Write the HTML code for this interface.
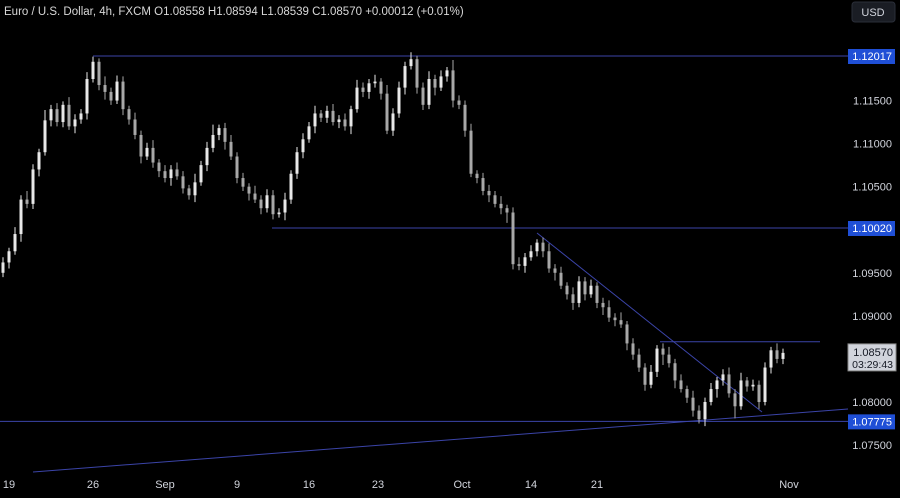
<!DOCTYPE html>
<html><head><meta charset="utf-8">
<style>
html,body{margin:0;padding:0;background:#000;}
body{width:900px;height:493px;overflow:hidden;font-family:"Liberation Sans",sans-serif;}
svg text{font-family:"Liberation Sans",sans-serif;}
</style></head>
<body>
<svg id="chart" width="900" height="493" viewBox="0 0 900 493" xmlns="http://www.w3.org/2000/svg">
<rect x="0" y="0" width="900" height="493" fill="#000"/>
<text x="4" y="15" fill="#d8d8d8" font-size="11.5">Euro / U.S. Dollar, 4h, FXCM  O1.08558  H1.08594  L1.08539  C1.08570  +0.00012 (+0.01%)</text>
<g id="lines"></g>
<g id="candles"></g>
<g id="yaxis"></g>
<g id="xaxis"></g>
<rect x="852" y="2" width="43" height="20" rx="3" fill="#1a1d24" stroke="#2a2e39"/>
<text x="873" y="16" fill="#d1d4dc" font-size="11" text-anchor="middle">USD</text>
</svg>
<script>
const closes=[1.0962,1.0975,1.0995,1.1035,1.1030,1.1070,1.1090,1.1127,1.1140,1.1125,1.1145,1.1120,1.1128,1.1135,1.1175,1.1195,1.1168,1.1160,1.1150,1.1172,1.1140,1.1128,1.1110,1.1085,1.1095,1.1078,1.1068,1.1060,1.1070,1.1062,1.1048,1.1040,1.1055,1.1075,1.1095,1.1110,1.1118,1.1102,1.1085,1.1060,1.1050,1.1042,1.1035,1.1025,1.1040,1.1018,1.1020,1.1035,1.1065,1.1090,1.1105,1.1120,1.1135,1.1130,1.1138,1.1125,1.1128,1.1120,1.1140,1.1165,1.1160,1.1170,1.1172,1.1158,1.1115,1.1135,1.1165,1.1190,1.1198,1.1165,1.1145,1.1175,1.1165,1.1178,1.1185,1.1150,1.1145,1.1115,1.1065,1.1060,1.1045,1.1040,1.1030,1.1025,1.1020,1.0960,1.0958,1.0968,1.0975,1.0985,1.0975,1.0955,1.0950,1.0935,1.0925,1.0915,1.0940,1.0925,1.0935,1.0915,1.0910,1.0898,1.0895,1.0890,1.0868,1.0855,1.0840,1.0820,1.0835,1.0862,1.0855,1.0845,1.0825,1.0815,1.0805,1.0790,1.0780,1.0800,1.0815,1.0825,1.0832,1.0810,1.0795,1.0825,1.0818,1.0820,1.0800,1.0840,1.0860,1.0850,1.0857];
const firstOpen=1.0950;
const wickUp=[6,4,8,5,10,6,4,12,5,7,4,9,6,5,8,6,4,10,5,7,6,4,8,5,6,9,4,7,5,8,6,4,10,5,7,12,4,6,8,5,6,4,9,5,7,6,5,8,4,6,7,5,9,4,6,8,5,7,4,9,6,5,8,4,10,6,7,5,8,4,6,9,5,7,4,12,6,5,8,4,6,7,5,9,4,6,8,5,7,4,6,9,5,7,4,8,6,5,7,4,6,8,5,9,4,6,7,5,8,4,6,9,5,7,4,8,6,5,7,4,6,8,5,9,4,6,5];
const wickDn=[5,7,4,9,5,6,8,4,7,5,6,4,8,5,7,4,6,9,5,4,7,6,5,8,4,6,7,5,9,4,6,5,8,4,7,5,6,9,4,6,5,8,4,7,5,6,4,9,5,6,7,4,8,5,6,4,7,5,9,4,6,8,5,7,4,6,5,8,4,7,6,5,9,4,6,8,5,7,4,6,5,8,4,7,12,6,5,8,4,6,7,5,9,4,6,8,5,7,4,6,9,5,7,4,8,6,5,7,4,6,12,5,9,4,6,7,5,8,4,10,6,5,14,4,6,5,8,4,7,5,6];
const priceTicks=[1.115,1.110,1.105,1.095,1.090,1.080,1.075];
const levelLabels=[1.12017,1.10020,1.07775];
const timeLabels=["19","26","Sep","9","16","23","Oct","14","21","Nov"];
const timeBarIdx=[1,15,27,39,51,62.5,76.5,88,99,131];

const NS="http://www.w3.org/2000/svg";
function yS(p){return 56+(1.12017-p)*8613;}
function xS(i){return 3+i*(780/(closes.length-1));}
function mk(tag,attrs,parent){const e=document.createElementNS(NS,tag);for(const k in attrs)e.setAttribute(k,attrs[k]);parent.appendChild(e);return e;}

const lines=document.getElementById('lines');
const lc="#3b44a8";
let l;
l=mk('line',{x1:93,y1:yS(1.12017),x2:848,y2:yS(1.12017),stroke:lc,'stroke-width':1},lines);


l=mk('line',{x1:272,y1:yS(1.10020),x2:848,y2:yS(1.10020),stroke:lc,'stroke-width':1},lines);


l=mk('line',{x1:0,y1:yS(1.07775),x2:848,y2:yS(1.07775),stroke:lc,'stroke-width':1},lines);


l=mk('line',{x1:660,y1:yS(1.0870),x2:820,y2:yS(1.0870),stroke:lc,'stroke-width':1},lines);


l=mk('line',{x1:537,y1:233,x2:762,y2:412,stroke:lc,'stroke-width':1},lines);


l=mk('line',{x1:33,y1:472,x2:848,y2:409,stroke:lc,'stroke-width':1},lines);



const cg=document.getElementById('candles');
for(let i=0;i<closes.length;i++){
  const o=i===0?firstOpen:closes[i-1], c=closes[i];
  const hi=Math.max(o,c)+wickUp[i%wickUp.length]*0.0001, lo=Math.min(o,c)-wickDn[i%wickDn.length]*0.0001;
  const x=xS(i);
  const col=c>=o?"#e8e8e8":"#a8a8a8";
  const w=mk('line',{x1:x,y1:yS(hi),x2:x,y2:yS(lo),stroke:col,'stroke-width':1},cg);
  
  
  const top=yS(Math.max(o,c)), h=Math.max(1,yS(Math.min(o,c))-top);
  const b=mk('rect',{x:x-1.5,y:top,width:3,height:h,fill:col},cg);
  
  
}

const ya=document.getElementById('yaxis');
priceTicks.forEach(p=>{
  const t=mk('text',{x:892,y:yS(p)+4,fill:'#d1d4dc','font-size':11,'text-anchor':'end'},ya);
  t.textContent=p.toFixed(5);
  
  
});
levelLabels.forEach(p=>{
  const r=mk('rect',{x:848,y:yS(p)-7,width:47,height:15,fill:'#1f4fd6'},ya);
  
  
  const t=mk('text',{x:892,y:yS(p)+4,fill:'#fff','font-size':11,'text-anchor':'end'},ya);
  t.textContent=p.toFixed(5);
  
  
});
const lastP=closes[closes.length-1];
const pb=mk('rect',{x:848,y:yS(lastP)-9,width:48,height:27,fill:'#d1d4dc',stroke:'#888'},ya);


let t=mk('text',{x:893,y:yS(lastP)+3,fill:'#131722','font-size':11,'text-anchor':'end'},ya);
t.textContent="1.08570";


t=mk('text',{x:893,y:yS(lastP)+15,fill:'#131722','font-size':10.5,'text-anchor':'end'},ya);
t.textContent="03:29:43";



const xa=document.getElementById('xaxis');
timeLabels.forEach((s,k)=>{
  const tx=mk('text',{x:xS(timeBarIdx[k]),y:488,fill:'#d1d4dc','font-size':11,'text-anchor':'middle'},xa);
  tx.textContent=s;
  
  
});
</script>
</body></html>
